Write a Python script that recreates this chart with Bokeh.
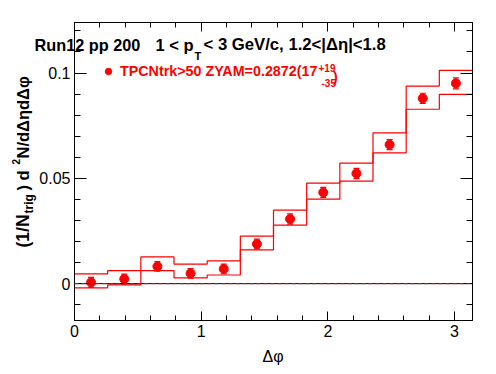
import numpy as np
from bokeh.plotting import figure
from bokeh.models import (ColumnDataSource, Range1d, LinearAxis, FixedTicker,
                          Whisker, TeeHead, Span, Legend, LegendItem)
from bokeh.core.properties import value
from bokeh.embed import file_html
from bokeh.resources import INLINE

# ---------------- data ----------------
dphi_edges = [0.0, 0.2618, 0.5236, 0.7854, 1.0472, 1.3090, 1.5708,
              1.8326, 2.0944, 2.3562, 2.6180, 2.8798, 3.1416]
dphi = [0.1309, 0.3927, 0.6545, 0.9163, 1.1781, 1.4399,
        1.7017, 1.9635, 2.2253, 2.4871, 2.7489, 3.0107]
yield_vals = [0.0006, 0.0022, 0.0082, 0.0049, 0.0070, 0.0188,
              0.0307, 0.0433, 0.0523, 0.0660, 0.0880, 0.0951]
stat_err = [0.0024, 0.0023, 0.0023, 0.0023, 0.0023, 0.0023,
            0.0024, 0.0024, 0.0024, 0.0024, 0.0024, 0.0026]
sys_hi = [0.0046, 0.0062, 0.0127, 0.0093, 0.0108, 0.0226,
          0.0349, 0.0477, 0.0572, 0.0716, 0.0938, 0.1013]
sys_lo = [-0.0020, -0.0006, 0.0062, 0.0027, 0.0041, 0.0160,
          0.0278, 0.0401, 0.0487, 0.0621, 0.0828, 0.0899]
x_major = [0, 1, 2, 3]
x_minor = [0.2, 0.4, 0.6, 0.8, 1.2, 1.4, 1.6, 1.8, 2.2, 2.4, 2.6, 2.8, 3.0]
y_major = [0, 0.05, 0.1]
y_minor = [-0.01, 0.01, 0.02, 0.03, 0.04, 0.06, 0.07, 0.08, 0.09, 0.11, 0.12]
legend_text = "TPCNtrk>50 ZYAM=0.2872(17"

RED = "#ff0000"
FONT = "Liberation Sans"

X_LO, X_HI = 0.0, np.pi
Y_LO, Y_HI = -0.0175, 0.124

W, H = 488, 366
FL, FR, FT, FB = 74, 16, 22, 46   # frame borders

p = figure(width=W, height=H, output_backend="svg", toolbar_location=None,
           x_range=Range1d(X_LO, X_HI), y_range=Range1d(Y_LO, Y_HI),
           min_border_left=FL, min_border_right=FR, min_border_top=FT,
           min_border_bottom=FB, x_axis_location=None, y_axis_location=None)
p.grid.visible = False
p.outline_line_color = "black"
p.outline_line_width = 1
p.background_fill_color = "white"
p.border_fill_color = "white"

def style_axis(ax, ticks, minor, tin, tmin, labels=True):
    ax.ticker = FixedTicker(ticks=ticks, minor_ticks=minor)
    ax.major_tick_in = tin
    ax.major_tick_out = 0
    ax.minor_tick_in = tmin
    ax.minor_tick_out = 0
    ax.axis_line_color = "black"
    ax.major_tick_line_color = "black"
    ax.minor_tick_line_color = "black"
    ax.major_label_text_font = FONT
    ax.major_label_text_font_size = "16px"
    ax.major_label_text_color = "black"
    ax.major_label_standoff = 4
    if not labels:
        ax.major_label_text_alpha = 0
        ax.major_label_text_font_size = "1px"
        ax.major_label_standoff = 0

xb = LinearAxis(); style_axis(xb, x_major, x_minor, 9, 5)
xb.major_label_overrides = {0: "0", 1: "1", 2: "2", 3: "3"}
xt = LinearAxis(); style_axis(xt, x_major, x_minor, 9, 5, labels=False)
yl = LinearAxis(); style_axis(yl, y_major, y_minor, 12, 6)
yl.major_label_overrides = {0: "0", 0.05: "0.05", 0.1: "0.1"}
yr = LinearAxis(); style_axis(yr, y_major, y_minor, 12, 6, labels=False)
p.add_layout(xb, "below")
p.add_layout(xt, "above")
p.add_layout(yl, "left")
p.add_layout(yr, "right")

# zero line
p.add_layout(Span(location=0, dimension="width", line_color="black", line_width=1))
p.add_layout(Span(location=0, dimension="width", line_color=RED, line_width=1,
                  line_dash="4 3"))

# systematic band as upper and lower step lines
p.step(x=dphi_edges, y=sys_hi + [sys_hi[-1]], mode="after", line_color=RED, line_width=1.2)
p.step(x=dphi_edges, y=sys_lo + [sys_lo[-1]], mode="after", line_color=RED, line_width=1.2)

src = ColumnDataSource(dict(
    x=dphi, y=yield_vals,
    lo=[v - e for v, e in zip(yield_vals, stat_err)],
    hi=[v + e for v, e in zip(yield_vals, stat_err)]))
p.add_layout(Whisker(source=src, base="x", lower="lo", upper="hi", dimension="height",
                     line_color=RED, line_width=1.2,
                     upper_head=TeeHead(size=6, line_color=RED, line_width=1.2),
                     lower_head=TeeHead(size=6, line_color=RED, line_width=1.2)))
pts = p.scatter("x", "y", source=src, size=9, marker="circle",
                fill_color=RED, line_color=RED)

# legend
leg = Legend(items=[LegendItem(label=value(legend_text), renderers=[pts])],
             location=(26, (H - FB) - 71 - 8), orientation="vertical",
             padding=0, margin=0, spacing=0, glyph_width=16, glyph_height=16,
             label_height=16, label_standoff=4, border_line_alpha=0,
             background_fill_alpha=0, label_text_font=FONT,
             label_text_font_size="14.3px", label_text_font_style="bold",
             label_text_color=RED)
p.add_layout(leg, "center")

# ---- text placement: (px, py) are pixels from the canvas top-left ----
PX0, PX1 = FL, W - FR
PY0, PY1 = FT, H - FB
def dx(px):
    return X_LO + (px - PX0) * (X_HI - X_LO) / (PX1 - PX0)
def dy(py):
    return Y_HI - (py - PY0) * (Y_HI - Y_LO) / (PY1 - PY0)

def txt(s, px, py, size, bold=True, color="black", angle=0.0):
    p.text(x=[dx(px)], y=[dy(py)], text=[s], text_font=value(FONT),
           text_font_size=value(f"{size}px"),
           text_font_style="bold" if bold else "normal",
           text_color=color, text_align="left", text_baseline="alphabetic",
           angle=angle, level="overlay")

txt("+19", 318, 67, 10, color=RED)
txt("-35", 321, 82, 10, color=RED)
txt(")", 332.5, 76, 14.3, color=RED)

# titles
txt("Run12 pp 200", 34, 44, 16.3)
txt("1 < p", 155, 44, 16.5)
txt("T", 194, 55, 11)
txt(" < 3 GeV/c, 1.2<|\u0394\u03b7|<1.8", 203, 44, 16.7)

# y axis title (rotated)
A = np.pi / 2
txt("(1/N", 22.5, 247, 17.5, angle=A)
txt("trig", 28.5, 213, 12, angle=A)
txt(")  d", 22.5, 190, 16.5, angle=A)
txt("2", 15.5, 164, 10, angle=A)
txt("N/d\u0394\u03b7d\u0394\u03c6", 22.5, 158, 16.5, angle=A)

# x axis title
txt("\u0394\u03c6", 262, 356, 16, bold=False)

open("out.html", "w").write(file_html(p, INLINE))
